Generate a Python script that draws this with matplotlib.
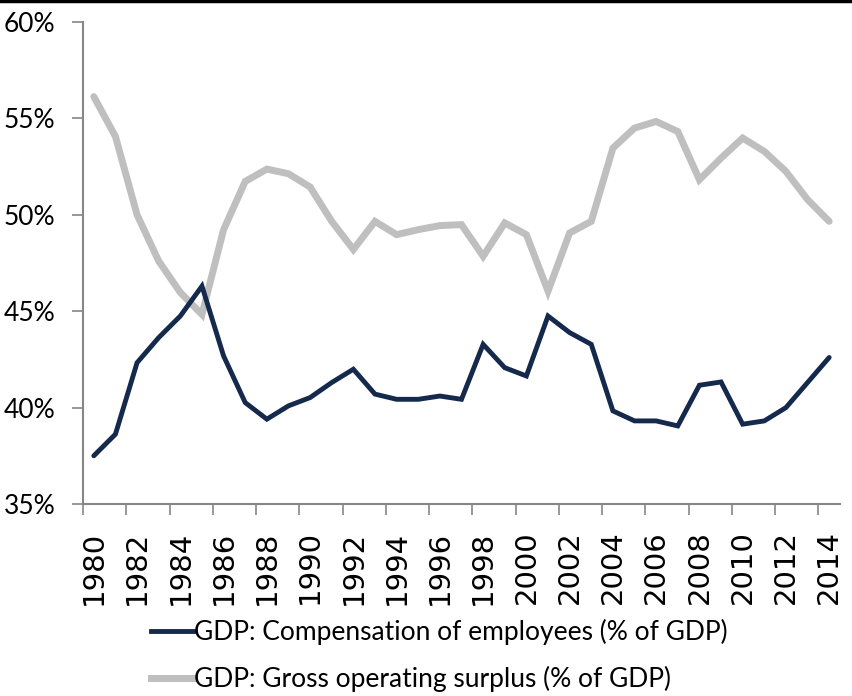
import matplotlib
matplotlib.use("Agg")
import matplotlib.pyplot as plt
from matplotlib.lines import Line2D
import numpy as np

years = list(range(1980, 2015))
compensation = [37.5, 38.62, 42.33, 43.63, 44.75, 46.3, 42.68, 40.26, 39.4, 40.09,
                40.52, 41.3, 41.99, 40.7, 40.43, 40.43, 40.6, 40.43, 43.28, 42.07,
                41.64, 44.75, 43.89, 43.28, 39.83, 39.31, 39.31, 39.05, 41.16, 41.33,
                39.14, 39.31, 40.0, 41.3, 42.6]
surplus = [56.13, 54.06, 50.0, 47.6, 45.97, 44.83, 49.23, 51.73, 52.37, 52.13,
           51.44, 49.66, 48.2, 49.66, 48.97, 49.23, 49.44, 49.49, 47.85, 49.58,
           48.97, 46.04, 49.06, 49.66, 53.46, 54.5, 54.84, 54.32, 51.82, 52.94,
           53.98, 53.29, 52.25, 50.79, 49.66]
y_ticks = [35, 40, 45, 50, 55, 60]
labels = ["GDP: Compensation of employees (% of GDP)",
          "GDP: Gross operating surplus (% of GDP)"]

narrow = ["Lato", "DejaVu Sans"]
navy = "#14294b"
grey = "#bfbfbf"
axis_grey = "#868686"

fig = plt.figure(figsize=(8.53, 6.96), dpi=100)
ax = fig.add_axes([83 / 853, 1 - 504 / 696, 757 / 853, 482 / 696])

x = np.arange(len(years))
ax.plot(x, surplus, color=grey, lw=5.0, solid_joinstyle="miter", solid_capstyle="round")
ax.plot(x, compensation, color=navy, lw=3.5, solid_joinstyle="miter", solid_capstyle="round")

ax.set_xlim(-0.5, len(years) - 0.5)
ax.set_ylim(35, 60)

# category labels every 2 years, tick marks between categories
ax.set_xticks(x[::2])
ax.set_xticklabels([str(y) for y in years[::2]], rotation=90, fontsize=21,
                   family="DejaVu Sans")
ax.tick_params(axis="x", which="major", length=0, pad=19)
ax.set_xticks(np.arange(-0.5, len(years) - 0.5, 2), minor=True)
ax.tick_params(axis="x", which="minor", length=8, color=axis_grey, width=1.2)

ax.set_yticks(y_ticks)
ax.set_yticklabels([f"{v}%" for v in y_ticks], fontsize=19, family=narrow)
ax.tick_params(axis="y", length=8, color=axis_grey, width=1.2, pad=12)

for s in ["top", "right"]:
    ax.spines[s].set_visible(False)
for s in ["left", "bottom"]:
    ax.spines[s].set_color(axis_grey)
    ax.spines[s].set_linewidth(1.5)

# black rule along the top of the figure
fig.add_artist(Line2D([0, 1], [0.998, 0.998], color="black", lw=2.5,
                      transform=fig.transFigure))

handles = [Line2D([], [], color=navy, lw=3.5), Line2D([], [], color=grey, lw=5.0)]
fig.legend(handles, labels, loc="center", bbox_to_anchor=(0.515, 0.058),
           frameon=False, ncol=1, prop={"family": narrow, "size": 19},
           handlelength=1.6, handletextpad=0.05, labelspacing=0.8,
           alignment="left")

fig.savefig("out.png", dpi=100)
